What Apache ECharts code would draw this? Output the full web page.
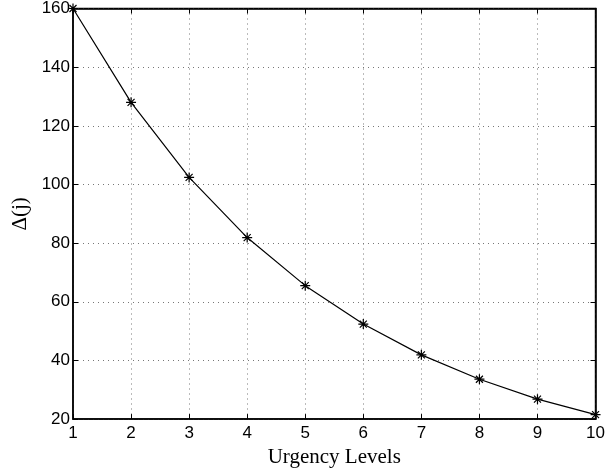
<!DOCTYPE html>
<html>
<head>
<meta charset="utf-8">
<script src="https://cdn.jsdelivr.net/npm/echarts@6/dist/echarts.min.js"></script>
<style>
  html, body { margin: 0; padding: 0; background: #fff; }
  #chart { width: 608px; height: 473px; }
</style>
</head>
<body>
<div id="chart"></div>
<script>
// urgency levels and the delta value
const levels = [1, 2, 3, 4, 5, 6, 7, 8, 9, 10];
const deltaValues = [160, 128, 102.4, 81.9, 65.5, 52.4, 41.9, 33.6, 26.8, 21.5];
const yTicks = { min: 20, max: 160, step: 20 };

const chart = echarts.init(document.getElementById('chart'));

const tickFont = { fontFamily: 'Liberation Sans', fontSize: 17, color: '#000' };
const nameFont = { fontFamily: 'Liberation Serif', fontSize: 21, color: '#000' };
const gridLine = { show: true, lineStyle: { color: '#777', type: [1, 4], width: 1 } };
const asterisk = 'path://M0,5L10,5M5,0L5,10M1.5,1.5L8.5,8.5M8.5,1.5L1.5,8.5';

const option = {
  animation: false,
  grid: {
    left: 73, right: 10, top: 7, bottom: 52,
    show: true, borderColor: '#000', borderWidth: 1.5
  },
  xAxis: [
    {
      type: 'value', min: 1, max: 10, interval: 1,
      name: 'Urgency Levels', nameLocation: 'middle', nameGap: 22,
      nameTextStyle: nameFont,
      axisLine: { show: true, lineStyle: { color: '#000', width: 1.5 } },
      axisTick: { show: true, inside: true, length: 5, lineStyle: { color: '#000' } },
      axisLabel: Object.assign({ margin: 6 }, tickFont),
      splitLine: gridLine
    },
    {
      type: 'value', min: 1, max: 10, interval: 1, position: 'top',
      axisLine: { show: true, lineStyle: { color: '#000', width: 1.5 } },
      axisTick: { show: true, inside: true, length: 5, lineStyle: { color: '#000' } },
      axisLabel: { show: false },
      splitLine: { show: false }
    }
  ],
  yAxis: [
    {
      type: 'value', min: yTicks.min, max: yTicks.max, interval: yTicks.step,
      name: 'Δ(j)', nameLocation: 'middle', nameGap: 39,
      nameTextStyle: nameFont,
      axisLine: { show: true, lineStyle: { color: '#000', width: 1.5 } },
      axisTick: { show: true, inside: true, length: 5, lineStyle: { color: '#000' } },
      axisLabel: Object.assign({ margin: 3 }, tickFont),
      splitLine: gridLine
    },
    {
      type: 'value', min: yTicks.min, max: yTicks.max, interval: yTicks.step, position: 'right',
      axisLine: { show: true, lineStyle: { color: '#000', width: 1.5 } },
      axisTick: { show: true, inside: true, length: 5, lineStyle: { color: '#000' } },
      axisLabel: { show: false },
      splitLine: { show: false }
    }
  ],
  series: [
    {
      type: 'line',
      data: levels.map((x, i) => [x, deltaValues[i]]),
      symbol: asterisk,
      symbolSize: 10,
      showAllSymbol: true,
      lineStyle: { color: '#000', width: 1.2 },
      itemStyle: { color: 'transparent', borderColor: '#000', borderWidth: 1.2 }
    }
  ]
};

chart.setOption(option);
</script>
</body>
</html>
